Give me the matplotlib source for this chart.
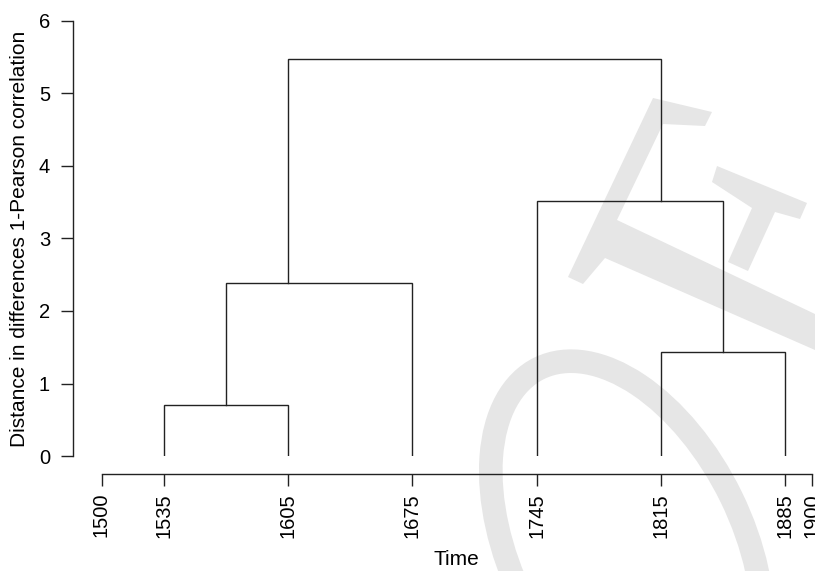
"""Dendrogram of time periods by 1-Pearson correlation distance."""

import matplotlib
matplotlib.use("Agg")
import matplotlib.pyplot as plt
from matplotlib.patches import Ellipse, Polygon

plt.rcParams["font.family"] = ["Liberation Sans", "DejaVu Sans"]

# ---------------------------------------------------------------------------
# Data
# ---------------------------------------------------------------------------

leaf_years = [1535, 1605, 1675, 1745, 1815, 1885]
# merges: children given as leaf index (>=0) or -(merge number + 1)
merge_left = [0, 4, -1, 3, -3]
merge_right = [1, 5, 2, -2, -4]
merge_heights = [0.70, 1.44, 2.39, 3.52, 5.47]

x_ticks = [1500, 1535, 1605, 1675, 1745, 1815, 1885, 1900]
y_ticks = [0, 1, 2, 3, 4, 5, 6]

W, H = 815, 571
DPI = 100
LINE = "#222222"
WATERMARK = "#e6e6e6"


def node_span(idx, spans):
    if idx >= 0:
        return leaf_years[idx], leaf_years[idx]
    return spans[-idx - 1]


def node_height(idx):
    return 0.0 if idx >= 0 else merge_heights[-idx - 1]


fig = plt.figure(figsize=(W / DPI, H / DPI), dpi=DPI)

# background watermark, in pixel coordinates
bg = fig.add_axes([0, 0, 1, 1], zorder=0)
bg.set_xlim(0, W)
bg.set_ylim(H, 0)
bg.axis("off")
bg.add_patch(Ellipse((627, 548), 2 * 200, 2 * 116, angle=64, fill=False,
                     edgecolor=WATERMARK, linewidth=17))
bg.add_patch(Polygon([(568, 277), (653, 98), (712, 112), (705, 126), (663, 124),
                      (617, 220), (815, 314), (815, 350), (605, 258), (583, 284)],
                     closed=True, facecolor=WATERMARK, edgecolor="none"))
bg.add_patch(Polygon([(717, 166), (807, 203), (800, 219), (775, 212), (748, 271),
                      (728, 262), (752, 208), (712, 182)],
                     closed=True, facecolor=WATERMARK, edgecolor="none"))

ax = fig.add_axes([101.5 / W, (H - 456) / H, (812 - 101.5) / W, (456 - 21) / H], zorder=1)
ax.patch.set_alpha(0)

# ---------------------------------------------------------------------------
# Draw the tree
# ---------------------------------------------------------------------------
spans = []
for left, right, h in zip(merge_left, merge_right, merge_heights):
    lo_l, hi_l = node_span(left, spans)
    lo_r, hi_r = node_span(right, spans)
    xl = (lo_l + hi_l) / 2
    xr = (lo_r + hi_r) / 2
    ax.plot([xl, xl, xr, xr], [node_height(left), h, h, node_height(right)],
            color=LINE, lw=1.0, solid_joinstyle="miter")
    spans.append((min(lo_l, lo_r), max(hi_l, hi_r)))

ax.set_xlim(1500, 1900)
ax.set_ylim(0, 6)

for side in ("top", "right"):
    ax.spines[side].set_visible(False)
ax.spines["left"].set_position(("outward", 20.5))
ax.spines["bottom"].set_position(("outward", 13))
ax.spines["left"].set_bounds(0, 6)
ax.spines["bottom"].set_bounds(1500, 1900)
for side in ("left", "bottom"):
    ax.spines[side].set_color(LINE)
    ax.spines[side].set_linewidth(1.0)

ax.set_xticks(x_ticks)
ax.set_xticklabels([str(t) for t in x_ticks], rotation=90)
ax.set_yticks(y_ticks)
ax.tick_params(axis="both", length=8.6, width=1.0, color=LINE, labelsize=14.5)
ax.tick_params(axis="x", pad=5)
ax.tick_params(axis="y", pad=8)

ax.set_xlabel("Time", fontsize=15, labelpad=9)
ax.set_ylabel("Distance in differences 1-Pearson correlation", fontsize=15, labelpad=7)

fig.savefig("out.png", dpi=DPI)
